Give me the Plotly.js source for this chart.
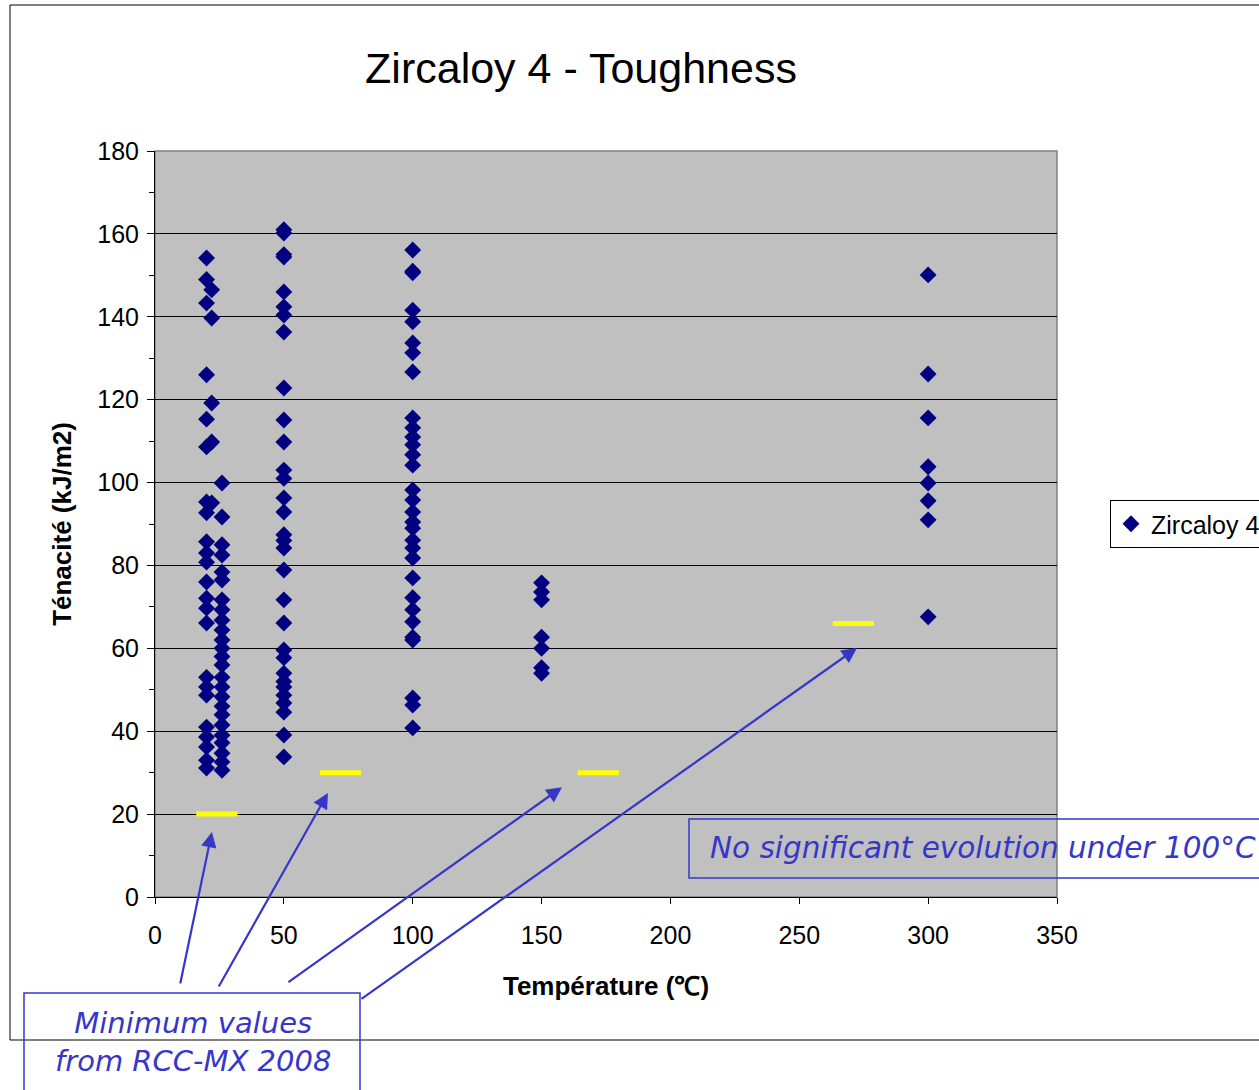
<!DOCTYPE html>
<html>
<head>
<meta charset="utf-8">
<script src="https://cdn.plot.ly/plotly-3.0.1.min.js"></script>
<style>html,body{margin:0;padding:0;background:#fff;}#chart{width:1259px;height:1090px;}</style>
</head>
<body>
<div id="chart"></div>
<script>
// Toughness values (kJ/m2) grouped by test temperature (°C)
const temps = [20, 22, 26, 50, 100, 150, 300];
const tough20 = [154.2, 149, 143.3, 126, 115.3, 108.6, 95.3, 92.7, 85.7, 83, 80.8, 76, 72.1, 69.7, 66.1, 53, 50.7, 48.7, 41, 38.6, 36.2, 33, 31.1];
const tough22 = [146.5, 139.7, 119.2, 109.8, 95.1];
const tough26 = [99.9, 91.7, 85, 82.5, 78.4, 76.5, 71.7, 69.3, 66.8, 64.4, 62, 60, 58, 56, 53, 50.7, 48.3, 46, 44, 41.5, 39, 37.2, 34.7, 32.6, 30.6];
const tough50 = [161, 160.2, 155, 154.4, 146, 142.4, 140.4, 136.3, 122.8, 115.1, 109.8, 103, 101, 96.3, 92.9, 87.4, 86, 84.2, 78.9, 71.7, 66.1, 59.6, 57.7, 54, 52, 50.7, 48.7, 46.8, 44.6, 39.1, 33.8];
const tough100 = [156.1, 151, 150.6, 141.6, 138.8, 133.7, 131.3, 126.7, 115.6, 113.2, 111, 109.1, 106.7, 104.2, 98.2, 95.8, 92.9, 90.5, 89, 86.1, 84.2, 81.8, 77, 72.2, 69.3, 66.4, 62.7, 62, 48, 46.3, 40.8];
const tough150 = [75.8, 73.6, 71.7, 62.7, 60, 55.3, 54];
const tough300 = [150.1, 126.2, 115.6, 103.8, 99.9, 95.6, 91, 67.6];
const toughGroups = [tough20, tough22, tough26, tough50, tough100, tough150, tough300];

// Minimum values from RCC-MX 2008 (drawn as short yellow segments)
const minStart = [16, 64, 164, 263];
const minEnd = [32, 80, 180, 279];
const minValue = [20, 30, 30, 66];

// Arrow heads (data coords) for the "Minimum values" callout
const arrowHeadX = [22.1, 67.1, 157.9, 272.4];
const arrowHeadY = [15.7, 25.1, 26.5, 60.1];

const seriesName = 'Zircaloy 4';
const chartTitle = 'Zircaloy 4 - Toughness';
const xTitle = 'Température (℃)';
const yTitle = 'Ténacité (kJ/m2)';
const noteRight = 'No significant evolution under 100°C';
const noteLeft = 'Minimum values<br>from RCC-MX 2008';

const xs = [], ys = [];
toughGroups.forEach((g, i) => g.forEach(v => { xs.push(temps[i]); ys.push(v); }));

const minX = [], minY = [];
minValue.forEach((v, i) => { minX.push(minStart[i], minEnd[i], null); minY.push(v, v, null); });

const plotL = 155, plotR = 1057, plotT = 151, plotB = 897;
const pw = plotR - plotL, ph = plotB - plotT;
const px = p => (p - plotL) / pw;
const py = p => (plotB - p) / ph;

const blue = '#3636c8';
const arrowTails = [[180, 985], [218, 988], [287, 983], [360, 1000]];
const arrowHeadPx = [[212, 832], [328, 793], [562, 787], [857, 648]];

const annotations = arrowHeadX.map((x, i) => ({
  x: x, y: arrowHeadY[i], xref: 'x', yref: 'y',
  ax: arrowTails[i][0] - arrowHeadPx[i][0],
  ay: arrowTails[i][1] - arrowHeadPx[i][1],
  showarrow: true, arrowhead: 2, arrowsize: 1.4, arrowwidth: 2.2, arrowcolor: blue,
  text: ''
}));
annotations.push({
  xref: 'paper', yref: 'paper', x: px(983), y: py(848), xanchor: 'center', yanchor: 'middle',
  text: noteRight, showarrow: false,
  font: {family: 'DejaVu Sans', size: 29.5, color: blue, style: 'italic'}
});
annotations.push({
  xref: 'paper', yref: 'paper', x: px(193), y: py(1042), xanchor: 'center', yanchor: 'middle',
  text: noteLeft, showarrow: false,
  font: {family: 'DejaVu Sans', size: 29, color: blue, style: 'italic'}
});

const data = [
  {
    x: minX, y: minY, mode: 'lines', type: 'scatter', showlegend: false, hoverinfo: 'skip',
    line: {color: '#ffff00', width: 5}
  },
  {
    x: xs, y: ys, mode: 'markers', type: 'scatter', name: seriesName,
    marker: {symbol: 'diamond', size: 13, color: '#000080'}
  }
];

const layout = {
  width: 1259, height: 1090,
  margin: {l: plotL, r: 1259 - plotR, t: plotT, b: 1090 - plotB, pad: 0, autoexpand: false},
  paper_bgcolor: '#ffffff', plot_bgcolor: '#c0c0c0',
  font: {family: 'Liberation Sans, Arial, sans-serif', color: '#000'},
  title: {text: chartTitle, font: {size: 43, color: '#000'}, x: 581 / 1259, xanchor: 'center', y: 1 - 68 / 1090, yanchor: 'middle'},
  xaxis: {
    range: [0, 350], dtick: 50, tick0: 0, showgrid: false, zeroline: false,
    showline: true, linecolor: '#000', linewidth: 1,
    ticks: 'outside', ticklen: 6, tickcolor: '#000', ticklabelstandoff: 10,
    tickfont: {size: 25},
    title: {text: xTitle, font: {size: 26, weight: 'bold'}, standoff: 28}
  },
  yaxis: {
    range: [0, 180], dtick: 20, tick0: 0, showgrid: true, gridcolor: '#000', gridwidth: 1,
    zeroline: false, showline: true, linecolor: '#000', linewidth: 1,
    ticks: 'outside', ticklen: 7, tickcolor: '#000', ticklabelstandoff: 3,
    minor: {dtick: 10, ticks: 'outside', ticklen: 5, tickcolor: '#000', showgrid: false},
    tickfont: {size: 25},
    title: {text: yTitle, font: {size: 26, weight: 'bold'}, standoff: 18}
  },
  showlegend: true,
  legend: {
    x: px(1110), xanchor: 'left', y: 0.5, yanchor: 'middle',
    bgcolor: '#ffffff', bordercolor: '#000', borderwidth: 1,
    font: {size: 25}
  },
  annotations: annotations,
  shapes: [
    {type: 'rect', xref: 'paper', yref: 'paper', x0: 0, x1: 1, y0: 0, y1: 1, line: {color: '#808080', width: 1.5}, layer: 'below'},
    {type: 'rect', xref: 'paper', yref: 'paper', x0: px(10), x1: px(1270), y0: py(1040), y1: py(5), line: {color: '#000', width: 1}},
    {type: 'rect', xref: 'paper', yref: 'paper', x0: px(689), x1: px(1275), y0: py(878), y1: py(819), line: {color: blue, width: 1.5}},
    {type: 'rect', xref: 'paper', yref: 'paper', x0: px(24), x1: px(360), y0: py(1100), y1: py(993), line: {color: blue, width: 1.5}}
  ]
};

Plotly.newPlot('chart', data, layout, {displayModeBar: false, staticPlot: true});
</script>
</body>
</html>
